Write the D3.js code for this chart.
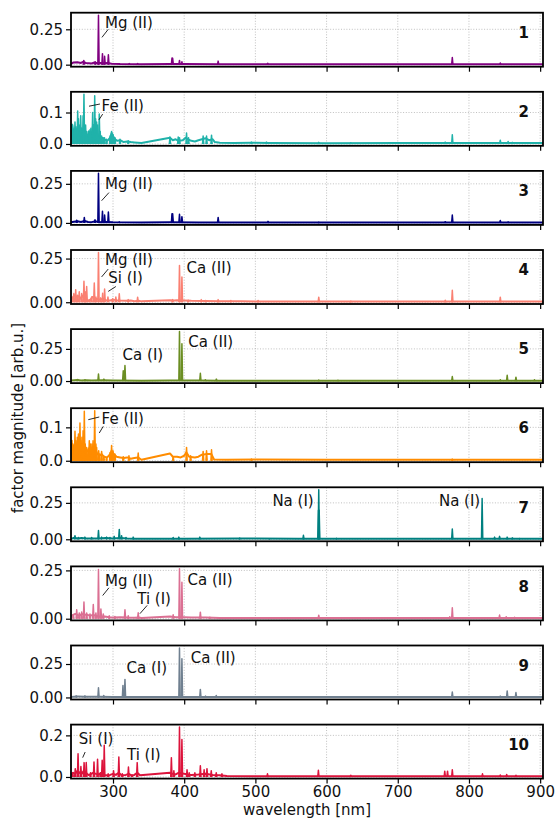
<!DOCTYPE html>
<html>
<head>
<meta charset="UTF-8">
<title>factor spectra</title>
<script src="https://d3js.org/d3.v7.min.js"></script>
<style>
  body { margin: 0; background: #fff; }
  svg text { font-family: "DejaVu Sans", sans-serif; fill: #111; }
</style>
</head>
<body>
<div id="chart"></div>
<script>
// ---- data (wavelength nm, magnitude arb.u.) ----
var colors = ["#800080", "#20B2AA", "#000080", "#FA8072", "#6B8E23",
              "#FF8C00", "#008080", "#DB7093", "#708090", "#DC143C"];
var panelNames = ["1", "2", "3", "4", "5", "6", "7", "8", "9", "10"];

var xTicks = [300, 400, 500, 600, 700, 800, 900];
var yTickVals = [[0, 0.25], [0, 0.1], [0, 0.25], [0, 0.25], [0, 0.25],
                 [0, 0.1], [0, 0.25], [0, 0.25], [0, 0.25], [0, 0.2]];
var yTickLabels = [["0.00", "0.25"], ["0.0", "0.1"], ["0.00", "0.25"], ["0.00", "0.25"], ["0.00", "0.25"],
                   ["0.0", "0.1"], ["0.00", "0.25"], ["0.00", "0.25"], ["0.00", "0.25"], ["0.0", "0.2"]];

// continuum of every factor
var base1 = [[241,0.005],[244,0.015],[250,0.017],[255,0.012],[258,0.02],[262,0.012],[266,0.01],[270,0.008],[274,0.015],[278,0.01],[282,0.012],[288,0.01],[292,0.012],[298,0.006],[310,0.004],[340,0.003],[380,0.004],[400,0.004],[450,0.003],[600,0.003],[904,0.003]];
var base2 = [[241,0.02],[243,0.06],[245,0.03],[247,0.05],[249,0.035],[251,0.06],[253,0.04],[255,0.05],[257,0.03],[260,0.05],[262,0.03],[264,0.02],[266,0.04],[268,0.025],[270,0.03],[272,0.06],[274,0.04],[276,0.05],[278,0.03],[280,0.02],[282,0.015],[285,0.02],[288,0.015],[292,0.01],[296,0.02],[298,0.035],[300,0.025],[303,0.015],[306,0.01],[310,0.012],[315,0.006],[320,0.008],[325,0.006],[330,0.005],[335,0.004],[340,0.003],[380,0.02],[384,0.012],[388,0.015],[392,0.01],[398,0.012],[402,0.02],[405,0.015],[410,0.01],[415,0.008],[420,0.012],[425,0.015],[430,0.018],[435,0.012],[440,0.015],[443,0.006],[450,0.004],[470,0.003],[495,0.004],[520,0.003],[600,0.002],[700,0.003],[760,0.003],[800,0.003],[904,0.003]];
var base3 = [[241,0.004],[245,0.008],[250,0.01],[255,0.006],[260,0.012],[265,0.006],[270,0.005],[275,0.01],[280,0.005],[290,0.006],[300,0.004],[340,0.003],[380,0.004],[420,0.003],[904,0.003]];
var base4 = [[241,0.01],[243,0.025],[246,0.04],[249,0.03],[252,0.035],[255,0.02],[258,0.04],[261,0.025],[264,0.01],[268,0.012],[271,0.03],[276,0.02],[282,0.015],[286,0.02],[290,0.012],[296,0.01],[300,0.015],[305,0.012],[310,0.01],[318,0.008],[325,0.01],[330,0.006],[336,0.008],[340,0.005],[380,0.012],[386,0.01],[390,0.012],[400,0.01],[410,0.008],[430,0.007],[450,0.006],[480,0.005],[520,0.004],[904,0.004]];
var base5 = [[241,0.004],[250,0.008],[255,0.005],[262,0.007],[270,0.004],[285,0.006],[300,0.004],[340,0.003],[380,0.004],[420,0.004],[450,0.003],[904,0.003]];
var base6 = [[241,0.02],[243,0.05],[245,0.03],[247,0.06],[249,0.04],[251,0.05],[253,0.03],[255,0.05],[257,0.03],[260,0.04],[262,0.025],[265,0.03],[267,0.04],[269,0.025],[271,0.04],[273,0.03],[276,0.03],[278,0.02],[281,0.015],[284,0.02],[287,0.012],[292,0.01],[296,0.02],[298,0.03],[301,0.02],[305,0.012],[310,0.01],[315,0.008],[320,0.01],[325,0.006],[330,0.008],[335,0.01],[340,0.003],[380,0.022],[384,0.012],[390,0.012],[395,0.01],[400,0.015],[403,0.025],[407,0.012],[415,0.01],[420,0.012],[425,0.018],[432,0.02],[438,0.02],[442,0.004],[460,0.003],[500,0.004],[600,0.003],[904,0.003]];
var base7 = [[241,0.004],[246,0.01],[250,0.006],[256,0.008],[262,0.005],[270,0.006],[280,0.005],[290,0.008],[300,0.006],[310,0.008],[320,0.005],[330,0.004],[340,0.003],[380,0.004],[400,0.004],[480,0.005],[560,0.004],[904,0.003]];
var base8 = [[241,0.01],[244,0.02],[247,0.025],[250,0.02],[253,0.015],[256,0.025],[260,0.02],[264,0.02],[268,0.015],[272,0.02],[276,0.015],[282,0.01],[288,0.012],[295,0.008],[300,0.006],[310,0.008],[320,0.006],[330,0.005],[336,0.006],[340,0.004],[380,0.012],[388,0.008],[400,0.008],[410,0.006],[430,0.006],[450,0.004],[500,0.004],[904,0.004]];
var base9 = [[241,0.004],[250,0.008],[260,0.006],[270,0.005],[280,0.006],[300,0.004],[340,0.003],[380,0.004],[420,0.004],[904,0.003]];
var base10 = [[241,0.01],[244,0.02],[247,0.015],[250,0.03],[253,0.02],[256,0.015],[259,0.03],[262,0.02],[265,0.01],[268,0.012],[272,0.02],[276,0.015],[280,0.012],[284,0.02],[288,0.01],[292,0.008],[296,0.01],[300,0.015],[304,0.01],[308,0.02],[312,0.008],[318,0.01],[322,0.015],[326,0.008],[330,0.01],[334,0.02],[338,0.008],[380,0.02],[384,0.015],[388,0.012],[392,0.02],[400,0.015],[405,0.012],[410,0.01],[420,0.012],[430,0.015],[440,0.01],[450,0.008],[460,0.005],[500,0.004],[904,0.004]];

// emission lines of every factor [wavelength, height]
var peaks1 = [[259,0.03],[275,0.02],[279.6,0.35],[285.2,0.078],[288.2,0.06],[293.5,0.07],[322.8,0.008],[334.6,0.008],[382.9,0.047],[383.8,0.045],[393.4,0.03],[396.8,0.02],[447.7,0.025],[517.3,0.01],[776.6,0.05],[844,0.012]];
var peaks2 = [[242.5,0.063],[244,0.045],[246.6,0.07],[248,0.055],[250.4,0.105],[251.5,0.08],[252.5,0.06],[254.6,0.09],[256.5,0.05],[258,0.09],[259.2,0.158],[261.5,0.06],[263,0.04],[265,0.03],[267.7,0.045],[269,0.05],[271.4,0.1],[273,0.06],[274.3,0.153],[275.6,0.08],[277,0.07],[278.5,0.06],[280.7,0.095],[282,0.04],[284,0.025],[286,0.02],[288,0.02],[291,0.015],[296,0.025],[298,0.04],[300,0.03],[302.7,0.02],[309.8,0.015],[321.4,0.01],[380,0.022],[391.6,0.022],[393.4,0.02],[403.3,0.035],[406,0.02],[426.6,0.025],[431.4,0.025],[438.4,0.028],[494.5,0.006],[515.6,0.006],[589,0.005],[634,0.004],[766.7,0.006],[776.6,0.029],[844,0.012],[855,0.008],[861,0.005]];
var peaks3 = [[249,0.017],[259.7,0.035],[274.7,0.02],[279.6,0.317],[285.2,0.075],[288.2,0.05],[293.5,0.07],[308.8,0.006],[382.9,0.058],[383.8,0.058],[393.4,0.055],[396.8,0.04],[447.7,0.035],[517.8,0.01],[589,0.004],[766.7,0.008],[776.6,0.05],[844,0.015],[855,0.006]];
var peaks4 = [[242,0.029],[245,0.05],[247.6,0.072],[250,0.04],[252.6,0.06],[256,0.05],[259.2,0.12],[261,0.06],[263,0.09],[266.7,0.015],[270,0.03],[273.7,0.11],[276,0.03],[279.6,0.285],[282.7,0.025],[285.5,0.052],[288.2,0.076],[292.9,0.03],[299.5,0.02],[304,0.03],[308.8,0.048],[321.4,0.015],[334.6,0.029],[383.7,0.015],[393.4,0.211],[396.8,0.145],[405.6,0.012],[424,0.015],[430,0.01],[447.7,0.015],[465.5,0.01],[503.8,0.01],[589,0.029],[634,0.006],[766.7,0.012],[776.6,0.068],[844,0.029]];
var peaks5 = [[250.4,0.012],[260.6,0.01],[279.6,0.055],[287.3,0.015],[314.4,0.08],[316.8,0.12],[393.4,0.385],[396.8,0.29],[422.7,0.06],[429.7,0.01],[445.2,0.015],[589,0.007],[616,0.005],[776.6,0.035],[844,0.01],[853.7,0.045],[866,0.03],[892,0.01]];
var peaks6 = [[242.4,0.061],[244,0.04],[246.6,0.088],[248,0.06],[249.8,0.07],[251.5,0.08],[253.6,0.113],[255,0.06],[256.4,0.07],[258,0.09],[259.7,0.148],[261,0.05],[263,0.04],[265,0.035],[266.7,0.06],[268.5,0.05],[270.5,0.05],[272,0.06],[274.3,0.15],[276,0.05],[277,0.04],[279.9,0.03],[281,0.02],[284,0.028],[287,0.015],[291,0.01],[296,0.025],[298,0.046],[300,0.03],[302.7,0.02],[314.4,0.012],[322.4,0.015],[335.4,0.023],[384.5,0.012],[403.3,0.04],[409,0.015],[426.6,0.028],[431.4,0.03],[438.4,0.033],[494.5,0.005],[776.6,0.005]];
var peaks7 = [[246.6,0.025],[251.2,0.012],[260.6,0.015],[270,0.012],[279.6,0.06],[284,0.015],[291,0.015],[295.7,0.012],[301.7,0.02],[308.8,0.067],[312,0.025],[318.2,0.012],[328.4,0.015],[384.5,0.012],[392.5,0.015],[422,0.015],[478,0.008],[520,0.004],[567.5,0.027],[588.6,0.2],[589,0.34],[589.6,0.2],[614,0.006],[776.6,0.071],[818.5,0.28],[836,0.015],[843,0.02],[853.7,0.015],[861,0.01],[871,0.005]];
var peaks8 = [[244.3,0.02],[249,0.046],[252.6,0.03],[256,0.035],[259.2,0.086],[263,0.03],[267.7,0.025],[272.3,0.074],[276,0.03],[279.6,0.255],[283,0.05],[286.3,0.025],[294.7,0.015],[302.7,0.012],[316.8,0.046],[321.4,0.015],[335.4,0.031],[384.5,0.02],[393.4,0.258],[396.8,0.189],[422.7,0.034],[436,0.008],[519,0.004],[589,0.018],[773,0.01],[776.6,0.057],[843,0.019],[852.3,0.01],[864,0.008]];
var peaks9 = [[248.3,0.012],[260.6,0.012],[279.6,0.073],[287,0.015],[314,0.09],[316.8,0.135],[393.4,0.37],[396.8,0.29],[422.7,0.06],[430,0.01],[445,0.015],[556.6,0.005],[614,0.005],[776.6,0.04],[844,0.01],[853.7,0.049],[866,0.037],[891,0.005]];
var peaks10 = [[243.4,0.02],[247,0.04],[250.9,0.112],[254.9,0.05],[259.4,0.069],[262.4,0.07],[268.4,0.02],[273.3,0.072],[278.3,0.085],[282.3,0.02],[284.8,0.08],[287.7,0.152],[293.2,0.015],[300.8,0.03],[308.2,0.096],[313.1,0.015],[321.7,0.048],[326.6,0.01],[334,0.069],[382,0.093],[385.5,0.03],[393.4,0.24],[396.8,0.18],[404,0.035],[407,0.02],[415,0.02],[422.7,0.054],[428,0.035],[432,0.04],[438,0.03],[445,0.02],[453,0.015],[517,0.015],[588.5,0.032],[634,0.008],[766,0.028],[769.9,0.028],[776.6,0.035],[819,0.015],[844,0.01],[853,0.012],[866,0.008]];

var bases = [base1, base2, base3, base4, base5, base6, base7, base8, base9, base10];
var peaks = [peaks1, peaks2, peaks3, peaks4, peaks5, peaks6, peaks7, peaks8, peaks9, peaks10];

// labels: [panel, text, wavelength, value]
var labels = [
  [0, "Mg (II)", 288.7, 0.297],
  [1, "Fe (II)", 284, 0.123],
  [2, "Mg (II)", 288.7, 0.248],
  [3, "Mg (II)", 288.7, 0.242],
  [3, "Si (I)", 293.3, 0.14],
  [3, "Ca (II)", 403.3, 0.198],
  [4, "Ca (I)", 313.5, 0.207],
  [4, "Ca (II)", 405.6, 0.305],
  [5, "Fe (II)", 284, 0.126],
  [6, "Na (I)", 523.9, 0.267],
  [6, "Na (I)", 757.8, 0.267],
  [7, "Mg (II)", 288.7, 0.197],
  [7, "Ti (I)", 334, 0.103],
  [7, "Ca (II)", 404.7, 0.2],
  [8, "Ca (I)", 319, 0.22],
  [8, "Ca (II)", 409.2, 0.3],
  [9, "Si (I)", 252, 0.184],
  [9, "Ti (I)", 319.6, 0.107]
];
// leader lines: [panel, wl1, v1, wl2, v2]
var leaders = [
  [0, 284.5, 0.193, 293.3, 0.25],
  [1, 266.3, 0.12, 281.7, 0.127],
  [1, 280.3, 0.077, 285.5, 0.095],
  [2, 284, 0.142, 294.3, 0.194],
  [3, 284, 0.145, 293.3, 0.19],
  [3, 293.3, 0.062, 304, 0.09],
  [5, 265.3, 0.123, 280.7, 0.131],
  [5, 280.7, 0.083, 286.3, 0.103],
  [7, 285.5, 0.12, 294.3, 0.16],
  [7, 337.8, 0.026, 348, 0.069],
  [9, 257.4, 0.093, 260.9, 0.12]
];

// ---- layout ----
var width = 556, height = 822;
var left = 71, right = 543;
var top0 = 12.7, pitch = 79.1, panelH = 54;
var fontSize = 15;
var halfWidth = 0.9; // nm, half base of a drawn line

var svg = d3.select("#chart").append("svg")
    .attr("width", width)
    .attr("height", height);

var x = d3.scaleLinear().domain([241, 904]).range([left, right]);

bases.forEach(function (base, i) {
    var top = top0 + pitch * i;
    var allVals = base.map(d => d[1]).concat(peaks[i].map(d => d[1]));
    var lo = d3.min(allVals), hi = d3.max(allVals);
    var pad = (hi - lo) * 0.05;
    var y = d3.scaleLinear().domain([lo - pad, hi + pad]).range([panelH, 0]);

    var g = svg.append("g").attr("transform", "translate(0," + top + ")");

    g.append("clipPath").attr("id", "clip" + i)
        .append("rect").attr("x", left).attr("y", 0)
        .attr("width", right - left).attr("height", panelH);

    // grid
    g.selectAll(".vgrid").data(xTicks).enter().append("line")
        .attr("x1", d => x(d)).attr("x2", d => x(d))
        .attr("y1", 0).attr("y2", panelH)
        .attr("stroke", "#b0b0b0").attr("stroke-width", 0.8)
        .attr("stroke-dasharray", "1,1.7");
    g.selectAll(".hgrid").data(yTickVals[i]).enter().append("line")
        .attr("x1", left).attr("x2", right)
        .attr("y1", d => y(d)).attr("y2", d => y(d))
        .attr("stroke", "#b0b0b0").attr("stroke-width", 0.8)
        .attr("stroke-dasharray", "1,1.7");

    var plot = g.append("g").attr("clip-path", "url(#clip" + i + ")");
    var line = d3.line().x(d => x(d[0])).y(d => y(d[1]));

    plot.append("path")
        .attr("d", line(base))
        .attr("fill", "none")
        .attr("stroke", colors[i])
        .attr("stroke-width", 2)
        .attr("stroke-linejoin", "round");

    // each emission line drawn as a narrow spike
    plot.selectAll(".peak").data(peaks[i]).enter().append("path")
        .attr("d", d => line([[d[0] - halfWidth, 0], [d[0], d[1]], [d[0] + halfWidth, 0]]))
        .attr("fill", colors[i])
        .attr("stroke", colors[i])
        .attr("stroke-width", 1.5)
        .attr("stroke-linejoin", "round");

    // axes
    var yAxis = d3.axisLeft(y).tickValues(yTickVals[i])
        .tickFormat((d, k) => yTickLabels[i][k])
        .tickSize(5).tickPadding(3);
    var ya = g.append("g").attr("transform", "translate(" + left + ",0)").call(yAxis);

    var xAxis = d3.axisBottom(x).tickValues(xTicks)
        .tickFormat(i === 9 ? d3.format("d") : "")
        .tickSize(5).tickPadding(3);
    var xa = g.append("g").attr("transform", "translate(0," + panelH + ")").call(xAxis);

    [ya, xa].forEach(function (a) {
        a.select(".domain").remove();
        a.selectAll(".tick line").attr("stroke", "#000").attr("stroke-width", 1.2);
        a.selectAll(".tick text").style("font-size", fontSize + "px")
            .style("font-family", "DejaVu Sans").attr("fill", "#111");
    });

    // frame
    g.append("rect")
        .attr("x", left).attr("y", 0)
        .attr("width", right - left).attr("height", panelH)
        .attr("fill", "none").attr("stroke", "#000").attr("stroke-width", 1.8);

    // panel number
    g.append("text")
        .attr("x", right - 14).attr("y", 20)
        .attr("dy", "0.35em")
        .attr("text-anchor", "end")
        .style("font-size", fontSize + "px")
        .style("font-weight", "bold")
        .text(panelNames[i]);

    // annotations
    labels.filter(d => d[0] === i).forEach(function (d) {
        g.append("text")
            .attr("x", x(d[2])).attr("y", y(d[3]))
            .attr("dy", "0.35em")
            .style("font-size", fontSize + "px")
            .text(d[1]);
    });
    leaders.filter(d => d[0] === i).forEach(function (d) {
        g.append("line")
            .attr("x1", x(d[1])).attr("y1", y(d[2]))
            .attr("x2", x(d[3])).attr("y2", y(d[4]))
            .attr("stroke", "#111").attr("stroke-width", 0.9);
    });
});

// axis titles
svg.append("text")
    .attr("x", (left + right) / 2)
    .attr("y", 810)
    .attr("text-anchor", "middle")
    .attr("dy", "0.35em")
    .style("font-size", fontSize + "px")
    .text("wavelength [nm]");

svg.append("text")
    .attr("transform", "translate(18,418) rotate(-90)")
    .attr("text-anchor", "middle")
    .attr("dy", "0.35em")
    .style("font-size", fontSize + "px")
    .text("factor magnitude [arb.u.]");
</script>
</body>
</html>
